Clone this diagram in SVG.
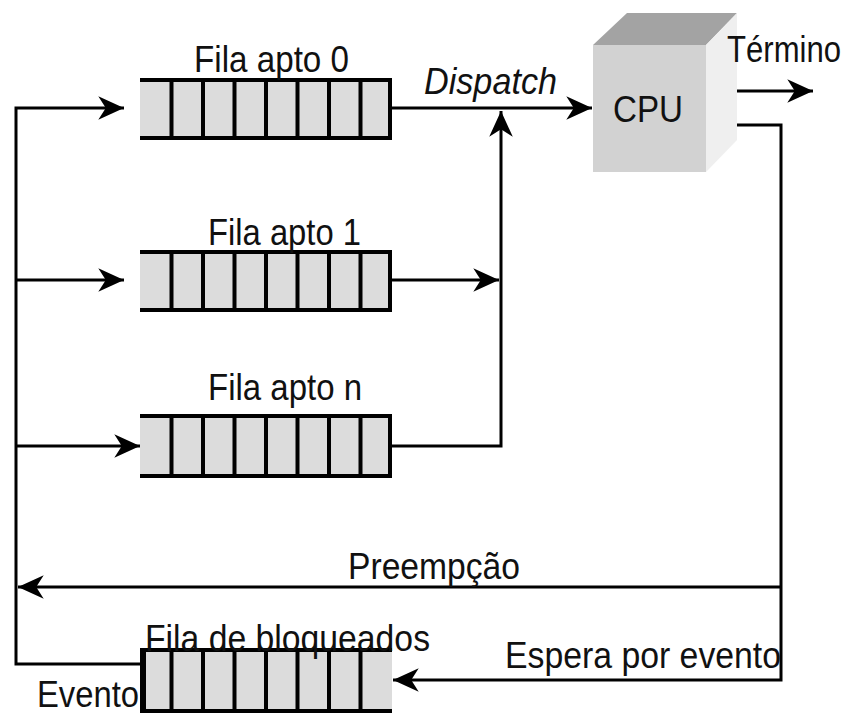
<svg xmlns="http://www.w3.org/2000/svg" width="851" height="716" viewBox="0 0 851 716">
<style>
text{font-family:"Liberation Sans",Arial,sans-serif;font-size:36px;fill:#111}
.q{fill:#dcdcdc;stroke:none}
.ql{stroke:#000;stroke-width:4;fill:none}
.c{stroke:#000;stroke-width:3;fill:none}
</style>
<defs>
<marker id="ah" markerUnits="userSpaceOnUse" markerWidth="30" markerHeight="30" viewBox="-26 -13 28 26" refX="0" refY="0" orient="auto">
<path d="M0,0 L-24,-11 L-17,0 L-24,11 Z" fill="#000"/>
</marker>
</defs>
<rect width="851" height="716" fill="#fff"/>
<g id="connectors">
<polyline class="c" points="140,664 16,664 16,108 124,108" marker-end="url(#ah)"/>
<line class="c" x1="16" y1="280" x2="124" y2="280" marker-end="url(#ah)"/>
<line class="c" x1="16" y1="446" x2="140" y2="446" marker-end="url(#ah)"/>
<line class="c" x1="392" y1="108" x2="592" y2="108" marker-end="url(#ah)"/>
<line class="c" x1="392" y1="280" x2="499" y2="280" marker-end="url(#ah)"/>
<polyline class="c" points="392,446 501,446 501,111" marker-end="url(#ah)"/>
<line class="c" x1="720" y1="91" x2="813" y2="91" stroke-width="6" marker-end="url(#ah)"/>
<polyline class="c" points="720,125 781,125 781,680 393,680" marker-end="url(#ah)"/>
<line class="c" x1="781" y1="587" x2="18" y2="587" marker-end="url(#ah)"/>
</g>
<g id="queue0">
<rect class="q" x="140" y="78" width="252" height="62"/>
<path class="ql" d="M140,80H390V138H140M171.5,80V138M203,80V138M234.5,80V138M266,80V138M297.5,80V138M329,80V138M360.5,80V138"/>
<text x="194" y="72" textLength="155" lengthAdjust="spacingAndGlyphs">Fila apto 0</text>
</g>
<g id="queue1">
<rect class="q" x="140" y="250" width="252" height="62"/>
<path class="ql" d="M140,252H390V310H140M171.5,252V310M203,252V310M234.5,252V310M266,252V310M297.5,252V310M329,252V310M360.5,252V310"/>
<text x="208" y="245" textLength="153" lengthAdjust="spacingAndGlyphs">Fila apto 1</text>
</g>
<g id="queuen">
<rect class="q" x="140" y="414" width="252" height="64"/>
<path class="ql" d="M140,416H390V476H140M171.5,416V476M203,416V476M234.5,416V476M266,416V476M297.5,416V476M329,416V476M360.5,416V476"/>
<text x="208" y="400" textLength="154" lengthAdjust="spacingAndGlyphs">Fila apto n</text>
</g>
<g id="blocked">
<rect class="q" x="140" y="648" width="252" height="64"/>
<path class="ql" d="M392,650H143M392,711H143M171.5,650V711M203,650V711M234.5,650V711M266,650V711M297.5,650V711M329,650V711M360.5,650V711"/>
<line x1="143" y1="648" x2="143" y2="713" stroke="#000" stroke-width="6"/>
<text x="145" y="651" textLength="285" lengthAdjust="spacingAndGlyphs">Fila de bloqueados</text>
<text x="37" y="707" font-size="34" textLength="102" lengthAdjust="spacingAndGlyphs">Evento</text>
</g>
<g id="cpu">
<polygon points="593,45 627,13 737,13 706,45" fill="#a3a3a3"/>
<polygon points="706,45 737,13 737,140 706,172" fill="#efefef"/>
<rect x="593" y="45" width="113" height="127" fill="#d2d2d2"/>
<text x="613" y="122" textLength="70" lengthAdjust="spacingAndGlyphs">CPU</text>
</g>
<g id="labels">
<text x="424" y="94" font-style="italic" textLength="133" lengthAdjust="spacingAndGlyphs">Dispatch</text>
<text x="727" y="62" font-size="35" textLength="114" lengthAdjust="spacingAndGlyphs">Término</text>
<text x="348" y="579" textLength="172" lengthAdjust="spacingAndGlyphs">Preempção</text>
<text x="505" y="668" textLength="276" lengthAdjust="spacingAndGlyphs">Espera por evento</text>
</g>
</svg>
